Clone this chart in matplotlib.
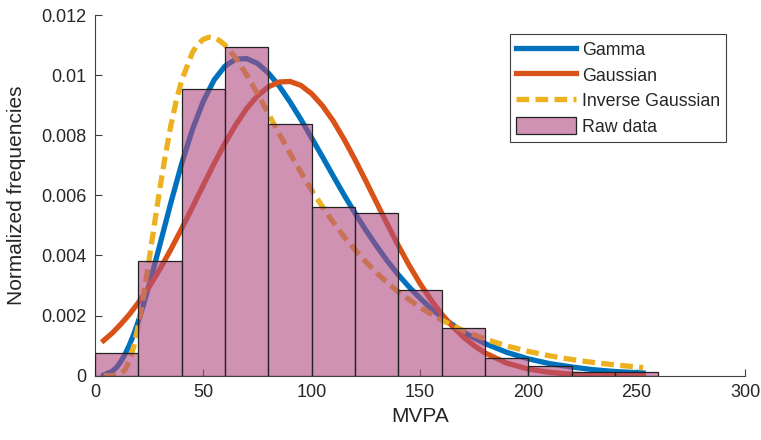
import numpy as np
import matplotlib.pyplot as plt
from matplotlib.patches import Patch
from matplotlib.lines import Line2D

plt.rcParams['font.family'] = ['Liberation Sans', 'DejaVu Sans']

# histogram of MVPA (normalized), bin width 20
bin_edges = [0, 20, 40, 60, 80, 100, 120, 140, 160, 180, 200, 220, 240, 260]
bar_heights = [0.00077, 0.0038, 0.00955, 0.01093, 0.00838, 0.00561, 0.00541,
               0.00286, 0.00158, 0.0006, 0.00033, 0.00011, 0.00011]

# fitted curves
gamma_x = [4, 8, 10, 12, 14, 16, 18, 20, 22, 25, 30, 35, 40, 45, 50, 55, 60,
           65, 70, 75, 80, 85, 90, 95, 100, 105, 110, 115, 120, 125, 130, 135,
           140, 145, 150, 155, 160, 170, 180, 190, 200, 210, 220, 230, 240, 253]
gamma_y = [0.00002, 0.00015, 0.00028, 0.00048, 0.00073, 0.00104, 0.0014,
           0.00181, 0.00227, 0.00302, 0.00437, 0.00575, 0.00705, 0.0082,
           0.00913, 0.00984, 0.0103, 0.01053, 0.01055, 0.01039, 0.01007,
           0.00964, 0.00911, 0.00853, 0.00791, 0.00728, 0.00664, 0.00601,
           0.00541, 0.00484, 0.00431, 0.00381, 0.00336, 0.00295, 0.00258,
           0.00224, 0.00195, 0.00145, 0.00107, 0.00078, 0.00056, 0.0004,
           0.00029, 0.0002, 0.00014, 0.00009]

gauss_x = [4, 8, 12, 16, 20, 25, 30, 35, 40, 45, 50, 55, 60, 65, 70, 75, 80,
           85, 90, 95, 100, 105, 110, 115, 120, 125, 130, 135, 140, 145, 150,
           155, 160, 165, 170, 175, 180, 190, 200, 210, 220, 230, 240, 253]
gauss_y = [0.00117, 0.00142, 0.00172, 0.00205, 0.00243, 0.00296, 0.00355,
           0.0042, 0.00489, 0.00561, 0.00634, 0.00706, 0.00774, 0.00835,
           0.00889, 0.00931, 0.00961, 0.00977, 0.00979, 0.00966, 0.00938,
           0.00898, 0.00847, 0.00786, 0.00719, 0.00648, 0.00575, 0.00503,
           0.00433, 0.00367, 0.00307, 0.00253, 0.00205, 0.00164, 0.00129,
           0.001, 0.00076, 0.00042, 0.00022, 0.00011, 0.00005, 0.00002,
           0.00001, 0.0]

invgauss_x = [4, 8, 12, 14, 16, 18, 20, 22, 25, 27.5, 30, 32.5, 35, 37.5, 40,
              45, 47.5, 50, 52.5, 55, 57.5, 60, 65, 70, 75, 80, 85, 90, 95,
              100, 105, 110, 115, 120, 125, 130, 135, 140, 150, 160, 170, 180,
              190, 200, 210, 220, 230, 240, 253]
invgauss_y = [0.0, 0.0, 0.00006, 0.00021, 0.00052, 0.001, 0.00167, 0.00247,
              0.00386, 0.00507, 0.00625, 0.00734, 0.00832, 0.00914, 0.00982,
              0.01076, 0.01103, 0.01119, 0.01126, 0.01124, 0.01115, 0.011,
              0.01057, 0.01001, 0.00938, 0.00872, 0.00805, 0.0074, 0.00677,
              0.00617, 0.00562, 0.0051, 0.00462, 0.00419, 0.00379, 0.00342,
              0.00309, 0.00279, 0.00227, 0.00185, 0.0015, 0.00122, 0.00099,
              0.00081, 0.00066, 0.00054, 0.00044, 0.00036, 0.00027]

yticks = [0, 0.002, 0.004, 0.006, 0.008, 0.01, 0.012]
ytick_labels = ['0', '0.002', '0.004', '0.006', '0.008', '0.01', '0.012']
xticks = [0, 50, 100, 150, 200, 250, 300]

blue = '#0072BD'
orange = '#D95319'
yellow = '#EDB120'
bar_face = (0.694, 0.286, 0.498, 0.6)
txt = '#262626'

fig = plt.figure(figsize=(7.61, 4.40), dpi=100)
ax = fig.add_axes([0.1248, 0.1461, 0.8542, 0.8198])

ax.plot(gamma_x, gamma_y, color=blue, lw=3.8, zorder=2)
ax.plot(gauss_x, gauss_y, color=orange, lw=3.8, zorder=2)
ax.plot(invgauss_x, invgauss_y, color=yellow, lw=3.8, dashes=(2.4, 1.2), zorder=2)

widths = np.diff(bin_edges)
ax.bar(bin_edges[:-1], bar_heights, width=widths, align='edge',
       facecolor=bar_face, edgecolor='#222222', linewidth=0.9, zorder=3)

ax.set_xlim(0, 300)
ax.set_ylim(0, 0.012)
ax.set_xticks(xticks)
ax.set_yticks(yticks)
ax.set_yticklabels(ytick_labels)
for s in ['top', 'right']:
    ax.spines[s].set_visible(False)
for s in ['left', 'bottom']:
    ax.spines[s].set_color('#404040')
    ax.spines[s].set_linewidth(0.8)
ax.tick_params(direction='in', length=5, width=0.8, color='#404040',
               labelsize=13, labelcolor=txt, pad=6)

ax.set_xlabel('MVPA', fontsize=15, color=txt, labelpad=4)
ax.set_ylabel('Normalized frequencies', fontsize=15, color=txt, labelpad=11)

handles = [Line2D([], [], color=blue, lw=3.8),
           Line2D([], [], color=orange, lw=3.8),
           Line2D([], [], color=yellow, lw=3.8, dashes=(2.4, 1.2)),
           Patch(facecolor=bar_face, edgecolor='#222222', linewidth=0.9)]
labels = ['Gamma', 'Gaussian', 'Inverse Gaussian', 'Raw data']
leg = ax.legend(handles, labels, loc='upper right', bbox_to_anchor=(0.971, 0.947),
                borderaxespad=0, fontsize=12.8, handlelength=3.4, handleheight=1.1,
                handletextpad=0.3, labelspacing=0.4, borderpad=0.35, fancybox=False,
                framealpha=1, edgecolor='#404040')
leg.get_frame().set_linewidth(0.8)
for t in leg.get_texts():
    t.set_color(txt)

fig.savefig('out.png', dpi=100)
